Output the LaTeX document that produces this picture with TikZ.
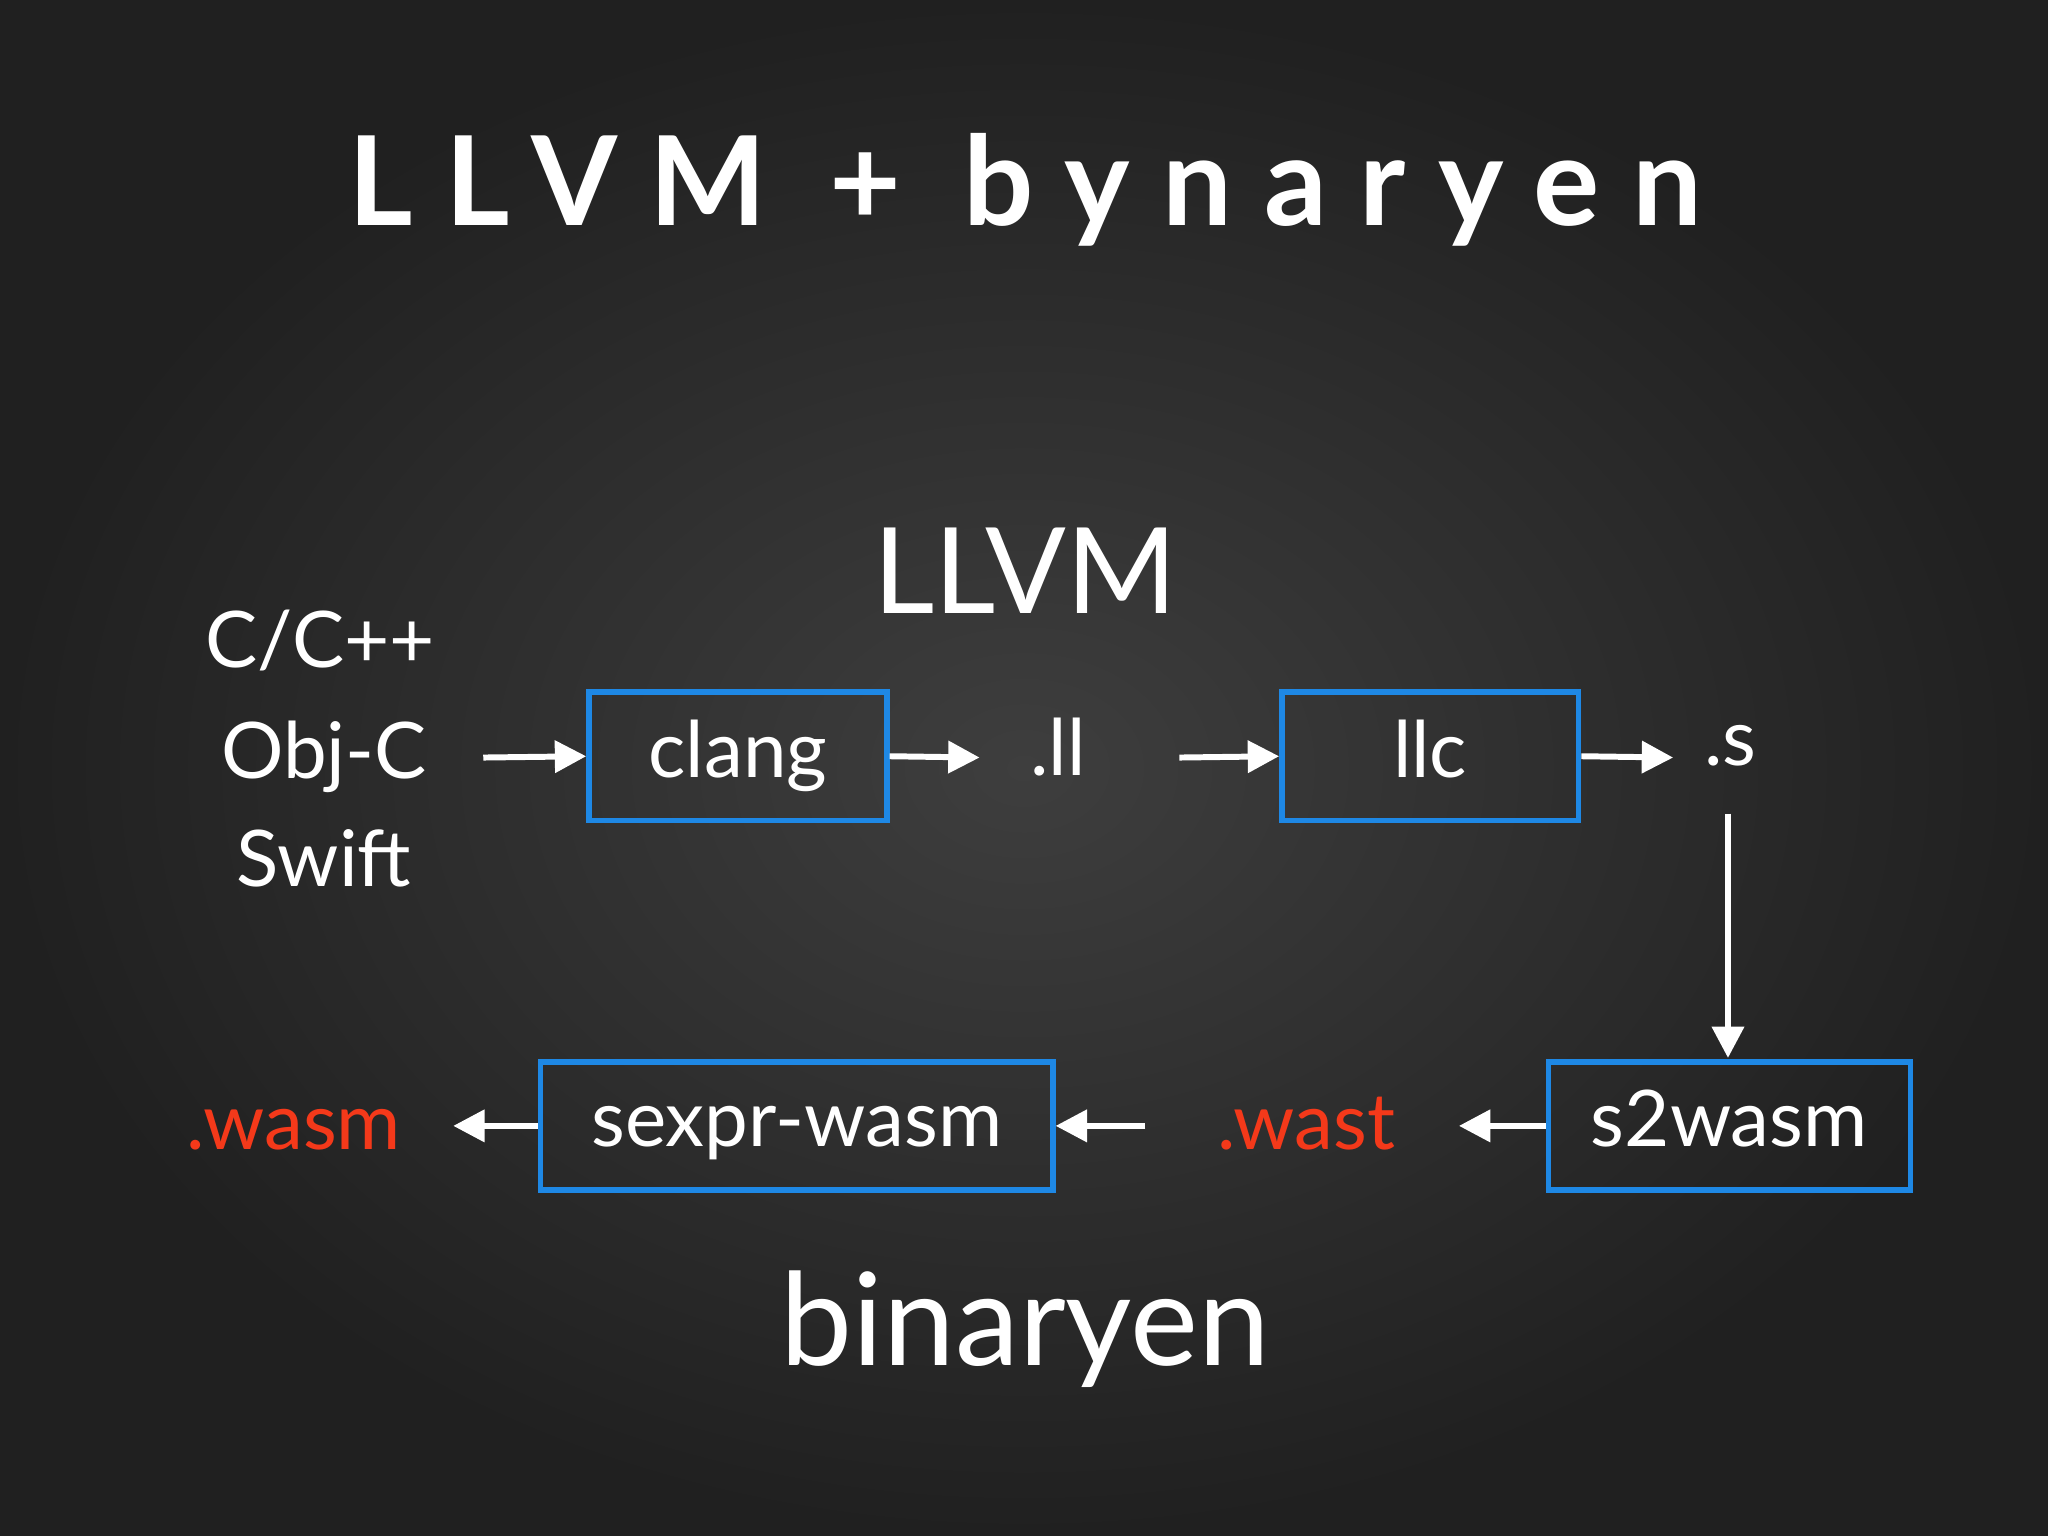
\documentclass[tikz,border=0pt]{standalone}
\usepackage{fontspec}
\setmainfont{Lato}
\newfontfamily\titlefont[LetterSpace=26]{Lato}
\usetikzlibrary{arrows.meta}
\definecolor{bx}{HTML}{1E88E5}
\definecolor{rd}{HTML}{F4391A}
\tikzset{
 box/.style={draw=bx,line width=1.2pt,minimum height=0.98cm,inner sep=0pt},
 arr/.style={white,line width=1.3pt,-{Triangle[length=0.24cm,width=0.24cm]}},
 lbl/.style={text=white,font=\fontsize{17}{20}\selectfont,text height=2.4ex,text depth=0.6ex},
}
\begin{document}
\begin{tikzpicture}[x=0.01cm,y=-0.01cm]
\shade[inner color={rgb,255:red,62;green,62;blue,62},outer color={rgb,255:red,32;green,32;blue,32}] (0,0) rectangle (1568,1176);
\useasboundingbox (0,0) rectangle (1568,1176);
\node[text=white,font=\titlefont\bfseries\fontsize{27}{30}\selectfont] (title) at (785,145) {LLVM + bynaryen};
\node[text=white,font=\fontsize{26}{30}\selectfont] (llvm) at (785,437) {LLVM};
\node[lbl] (c) at (245,495) {C/C++};
\node[lbl] (o) at (248,580) {Obj-C};
\node[lbl] (s) at (248,663) {Swift};
\node[box,lbl,minimum width=2.28cm] (clang) at (565,579) {clang};
\node[lbl] (ll) at (810,578) {.ll};
\node[box,lbl,minimum width=2.27cm] (llc) at (1095,579) {llc};
\node[lbl] (dots) at (1325,570) {.s};
\node[box,lbl,minimum width=2.77cm] (s2) at (1324,862) {s2wasm};
\node[lbl,text=rd] (wast) at (1000,864) {.wast};
\node[box,lbl,minimum width=3.92cm] (sx) at (610,862) {sexpr-wasm};
\node[lbl,text=rd] (wasm) at (225,864) {.wasm};
\node[text=white,font=\fontsize{28}{32}\selectfont] (bin) at (785,1018) {binaryen};
\coordinate (a1) at (370,580);
\coordinate (e1) at (750,580);
\coordinate (a2) at (903,580);
\coordinate (e2) at (1281,580);
\coordinate (a3) at (1323,623);
\coordinate (e3) at (1323,810);
\coordinate (e4) at (1117,862);
\coordinate (a4) at (877,862);
\coordinate (e5) at (347,862);
\draw[arr] (a1) -- (clang.west);
\draw[arr] (clang.east) -- (e1);
\draw[arr] (a2) -- (llc.west);
\draw[arr] (llc.east) -- (e2);
\draw[arr] (a3) -- (e3);
\draw[arr] (s2.west) -- (e4);
\draw[arr] (a4) -- (sx.east);
\draw[arr] (sx.west) -- (e5);
\end{tikzpicture}
\end{document}
